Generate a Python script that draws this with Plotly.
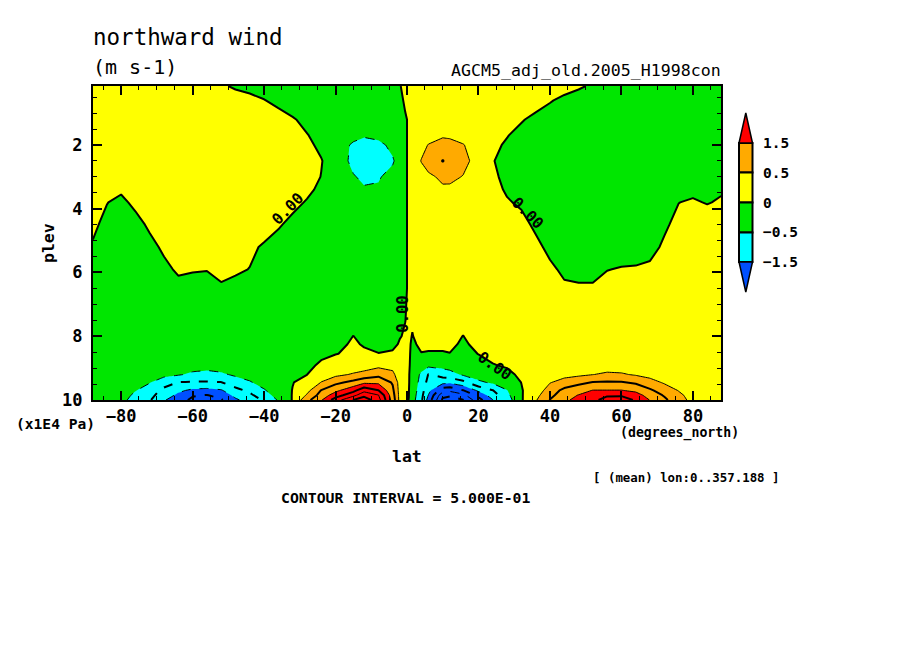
import plotly.graph_objects as go

lat_south = [-87.9,-86,-84,-80,-76,-72,-68,-64,-60,-56,-52,-48,-44,-40,-36,-32,-28,-24,-20,-15,-12,-8,-4,-2,-0.5]
lat_north = [0.5,1.5,4,6,10,12,15.7,20,24,28,32,36,40,44,48,52,56,60,64,68,72,76,80,84,87.9]
plev = [0.15,0.6,1.2,1.7,2.0,2.5,3.0,3.4,3.8,4.5,5.2,5.9,6.5,7.5,8.0,8.25,8.55,8.9,9.2,9.45,9.7,9.85,10]

wind_south = [
[.3,.3,.3,.3,.3,.3,.3,.3,.25,.2,.08,-.08,-.2,-.25,-.3,-.3,-.3,-.3,-.3,-.3,-.3,-.2,-.1,-.01,.05],
[.3,.3,.3,.3,.3,.3,.3,.3,.3,.3,.3,.25,.18,.02,-.14,-.25,-.3,-.3,-.3,-.3,-.3,-.25,-.15,-.05,.03],
[.3,.3,.3,.3,.3,.3,.3,.3,.3,.3,.3,.3,.3,.28,.2,.04,-.12,-.2,-.25,-.3,-.3,-.25,-.15,-.08,-.02],
[.3,.3,.3,.3,.3,.3,.3,.3,.3,.3,.3,.3,.3,.3,.3,.18,.02,-.14,-.25,-.38,-.46,-.38,-.2,-.1,-.02],
[.3,.3,.3,.3,.3,.3,.3,.3,.3,.3,.3,.3,.3,.3,.3,.24,.08,-.08,-.28,-.56,-.65,-.62,-.38,-.15,-.03],
[.3,.3,.3,.3,.3,.3,.3,.3,.4,.4,.4,.4,.4,.4,.4,.34,.18,.02,-.22,-.62,-.8,-.88,-.55,-.3,-.04],
[.3,.3,.25,.2,.25,.3,.3,.3,.35,.35,.35,.35,.35,.35,.35,.3,.16,-.01,-.2,-.47,-.58,-.54,-.35,-.18,-.03],
[.2,.15,.1,.05,.1,.2,.3,.3,.3,.3,.3,.3,.3,.3,.3,.24,.08,-.08,-.22,-.38,-.46,-.45,-.28,-.14,-.03],
[.14,.08,.01,-.08,.08,.2,.3,.3,.3,.3,.3,.3,.3,.3,.2,.1,-.03,-.15,-.2,-.3,-.35,-.35,-.2,-.1,-.02],
[.06,-.01,-.08,-.2,-.12,.06,.18,.28,.3,.3,.3,.3,.28,.18,.04,-.1,-.2,-.2,-.2,-.2,-.2,-.2,-.15,-.1,-.02],
[-.03,-.1,-.15,-.25,-.25,-.1,.06,.18,.22,.25,.25,.18,.08,-.05,-.15,-.2,-.2,-.2,-.2,-.2,-.2,-.2,-.15,-.1,-.02],
[-.25,-.25,-.25,-.25,-.25,-.2,-.08,.05,.03,.015,.08,.06,-.01,-.1,-.15,-.2,-.2,-.2,-.2,-.2,-.2,-.2,-.15,-.1,-.02],
[-.3,-.3,-.3,-.3,-.3,-.25,-.2,-.1,-.15,-.15,-.04,-.12,-.15,-.2,-.2,-.2,-.2,-.2,-.2,-.2,-.2,-.2,-.15,-.1,-.02],
[-.2,-.2,-.2,-.2,-.2,-.2,-.2,-.2,-.2,-.2,-.2,-.2,-.2,-.2,-.2,-.2,-.2,-.2,-.15,-.1,-.2,-.2,-.15,-.1,-.003],
[-.15,-.15,-.15,-.15,-.15,-.15,-.15,-.15,-.15,-.15,-.15,-.15,-.15,-.15,-.15,-.15,-.15,-.1,-.1,.003,-.08,-.1,-.1,-.01,.02],
[-.12,-.12,-.12,-.12,-.12,-.12,-.12,-.12,-.12,-.12,-.12,-.12,-.1,-.1,-.1,-.08,-.08,-.08,-.06,.03,-.02,-.05,-.05,.02,.05],
[-.1,-.1,-.1,-.1,-.1,-.12,-.15,-.18,-.2,-.2,-.15,-.12,-.1,-.08,-.06,-.06,-.06,-.04,-.01,.05,.04,.005,.03,.1,.08],
[-.1,-.1,-.1,-.1,-.12,-.15,-.2,-.25,-.3,-.3,-.25,-.2,-.15,-.1,-.06,-.06,-.05,.03,.15,.2,.25,.35,.35,.2,.1],
[-.1,-.1,-.1,-.12,-.2,-.28,-.38,-.45,-.58,-.65,-.58,-.42,-.3,-.15,-.08,-.04,-.005,.25,.38,.55,.65,.85,.6,.25,.1],
[-.1,-.1,-.1,-.15,-.3,-.48,-.75,-1.02,-1.05,-1.05,-1.02,-.75,-.55,-.3,-.12,-.01,.1,.52,.88,1.15,1.4,1.4,.95,.3,.1],
[-.1,-.1,-.12,-.22,-.48,-.7,-1.15,-1.4,-1.6,-1.65,-1.55,-1.15,-.9,-.55,-.2,.01,.35,1.02,1.38,1.85,2.35,2.02,1.1,.32,.08],
[-.1,-.1,-.14,-.28,-.6,-.85,-1.25,-1.6,-1.95,-2.02,-1.85,-1.35,-1.1,-.72,-.3,.02,.55,1.2,1.75,2.35,2.85,2.52,1.2,.34,.06],
[-.1,-.1,-.15,-.35,-.7,-.95,-1.45,-1.8,-2.1,-2.2,-2.05,-1.6,-1.25,-.95,-.45,.03,.85,1.45,2.25,3.02,3.3,2.7,1.3,.35,.05],
]

wind_north = [
[.1,.15,.2,.25,.3,.3,.3,.3,.3,.3,.3,.3,.3,.2,.08,-.08,-.2,-.25,-.3,-.3,-.3,-.3,-.3,-.3,-.3],
[.08,.12,.2,.25,.3,.3,.3,.3,.3,.3,.3,.2,.04,-.12,-.25,-.3,-.3,-.3,-.3,-.3,-.3,-.3,-.3,-.3,-.3],
[.02,.08,.2,.25,.3,.3,.3,.3,.25,.2,.04,-.12,-.25,-.3,-.3,-.3,-.3,-.3,-.3,-.3,-.3,-.3,-.3,-.3,-.3],
[.02,.08,.2,.3,.46,.42,.35,.25,.18,.02,-.14,-.25,-.3,-.3,-.3,-.3,-.3,-.3,-.3,-.3,-.3,-.3,-.3,-.3,-.3],
[.03,.1,.35,.52,.62,.65,.52,.3,.1,-.06,-.2,-.3,-.35,-.35,-.35,-.35,-.35,-.35,-.35,-.35,-.3,-.3,-.3,-.3,-.3],
[.04,.2,.52,.7,1.02,.88,.65,.3,.02,-.14,-.3,-.35,-.35,-.35,-.35,-.35,-.35,-.35,-.35,-.35,-.3,-.3,-.3,-.3,-.3],
[.03,.1,.3,.42,.58,.6,.48,.3,.07,-.1,-.25,-.3,-.35,-.35,-.35,-.35,-.35,-.35,-.35,-.35,-.3,-.25,-.25,-.25,-.25],
[.03,.08,.22,.32,.44,.42,.35,.25,.1,-.04,-.2,-.3,-.3,-.3,-.3,-.3,-.3,-.3,-.3,-.3,-.2,-.08,-.08,-.08,-.04],
[.02,.06,.18,.25,.35,.33,.3,.2,.12,.03,-.05,-.15,-.25,-.3,-.3,-.3,-.3,-.3,-.3,-.2,-.1,-.005,.04,-.02,.04],
[.02,.06,.15,.2,.3,.3,.3,.3,.25,.2,.1,-.06,-.15,-.2,-.25,-.25,-.25,-.25,-.2,-.12,-.05,.09,.2,.2,.2],
[.02,.06,.15,.2,.3,.3,.3,.3,.3,.25,.2,.08,-.08,-.15,-.2,-.2,-.2,-.15,-.15,-.1,.05,.15,.25,.25,.25],
[.02,.06,.15,.2,.3,.3,.3,.3,.3,.3,.25,.2,.06,-.06,-.07,-.07,-.01,.02,.03,.06,.15,.25,.3,.3,.3],
[.02,.06,.15,.2,.3,.3,.3,.3,.3,.3,.3,.25,.15,.05,.03,.03,.12,.2,.25,.25,.3,.3,.3,.3,.3],
[.03,.03,.15,.25,.25,.25,.1,.25,.3,.3,.3,.3,.3,.3,.3,.3,.3,.3,.3,.3,.3,.3,.3,.3,.3],
[.04,-.01,.1,.1,.1,.08,-.005,.12,.15,.2,.25,.25,.25,.25,.25,.25,.25,.25,.25,.25,.25,.25,.25,.25,.25],
[.04,-.04,.05,.05,.05,.04,-.03,.05,.1,.15,.2,.25,.25,.25,.25,.25,.25,.25,.25,.25,.25,.25,.25,.25,.25],
[.03,-.05,-.01,-.02,-.02,-.005,-.07,.005,.06,.1,.15,.2,.22,.25,.25,.25,.25,.25,.25,.25,.25,.25,.25,.25,.25],
[.03,-.08,-.2,-.35,-.3,-.25,-.2,-.08,-.01,.03,.1,.15,.2,.22,.25,.25,.25,.25,.25,.2,.22,.22,.22,.22,.2],
[.02,-.12,-.6,-1.02,-.8,-.7,-.42,-.25,-.15,-.06,.05,.12,.3,.38,.4,.49,.58,.55,.45,.35,.3,.25,.25,.22,.2],
[.02,-.15,-.7,-1.15,-1.35,-1.4,-1.15,-.6,-.42,-.2,.005,.15,.48,.65,.88,1.03,1.05,1.05,.92,.67,.45,.32,.28,.25,.2],
[.01,-.2,-.8,-1.35,-2.3,-2.4,-2.02,-1.4,-1.02,-.52,-.03,.25,.7,1.15,1.3,1.52,1.52,1.52,1.4,1.08,.75,.48,.3,.25,.2],
[.005,-.25,-.85,-1.52,-2.85,-2.9,-2.65,-1.85,-1.25,-.62,-.04,.35,.85,1.3,1.52,1.75,1.95,1.95,1.7,1.3,.95,.6,.32,.25,.2],
[-.005,-.3,-.9,-1.7,-3.1,-3.3,-3.02,-2.2,-1.52,-.75,-.05,.45,1.02,1.4,1.65,1.9,2.15,2.2,1.95,1.48,1.1,.7,.35,.25,.2],
]

colorbar_labels = ["1.5", "0.5", "0", "\u22120.5", "\u22121.5"]
band_colors = ["#ff0000", "#ffaa00", "#ffff00", "#00e600", "#00ffff", "#0050ff"]

lat = lat_south + lat_north
wind = [s + n for s, n in zip(wind_south, wind_north)]

FONT = "DejaVu Sans Mono"
OFF = 8  # the page's own body margin
PL, PR, PT, PB = 93, 721, 86, 400


def px(x):
    return (x - PL) / (PR - PL)


def py(y):
    return (PB - y) / (PB - PT)


zmin, zmax = -4.0, 4.0


def frac(v):
    return (v - zmin) / (zmax - zmin)


steps = [(-4.0, -1.5, band_colors[5]), (-1.5, -0.5, band_colors[4]), (-0.5, 0.0, band_colors[3]),
         (0.0, 0.5, band_colors[2]), (0.5, 1.5, band_colors[1]), (1.5, 4.0, band_colors[0])]
colorscale = []
for lo, hi, c in steps:
    colorscale += [[frac(lo), c], [frac(hi), c]]

fig = go.Figure()
fig.add_trace(go.Contour(
    x=lat, y=plev, z=wind, zmin=zmin, zmax=zmax, zauto=False, colorscale=colorscale, showscale=False,
    autocontour=False, contours=dict(start=-4, end=4, size=0.5, coloring="fill", showlines=False),
    line=dict(width=0, smoothing=0), hoverinfo="skip"))


def lines(start, end, size, width, dash):
    fig.add_trace(go.Contour(
        x=lat, y=plev, z=wind, showscale=False, autocontour=False,
        contours=dict(start=start, end=end, size=size, coloring="none"),
        line=dict(color="black", width=width, dash=dash, smoothing=0), hoverinfo="skip"))


lines(0, 3, 1, 2, "solid")
lines(0.5, 2.5, 1, 1, "solid")
lines(-3, -1, 1, 2, "dash")
lines(-2.5, -0.5, 1, 1, "dash")

tf = dict(family=FONT, size=17, color="black", weight="bold")
fig.update_layout(
    width=904 - 2 * OFF, height=654 - 2 * OFF, autosize=False,
    margin=dict(l=PL - OFF, r=904 - OFF - PR, t=PT - OFF, b=654 - OFF - PB, pad=0),
    paper_bgcolor="white", plot_bgcolor="white", showlegend=False,
    xaxis=dict(range=[-87.86, 87.86], tick0=0, dtick=20, ticks="inside", ticklen=9, tickwidth=1.5, tickcolor="black",
               showline=True, linecolor="black", linewidth=2, mirror="ticks", showgrid=False, zeroline=False,
               tickfont=tf, minor=dict(tick0=0, dtick=5, ticks="inside", ticklen=4, tickwidth=1, tickcolor="black", showgrid=False)),
    yaxis=dict(range=[10, 0.15], tick0=0, dtick=2, ticks="inside", ticklen=9, tickwidth=1.5, tickcolor="black",
               showline=True, linecolor="black", linewidth=2, mirror="ticks", showgrid=False, zeroline=False,
               ticklabelstandoff=5,
               tickfont=tf, minor=dict(tick0=0, dtick=0.5, ticks="inside", ticklen=4, tickwidth=1, tickcolor="black", showgrid=False)),
)

texts = [
    ("northward wind", 91, 37, 22.5, "left", 0, "normal"),
    ("(m s-1)", 91, 67, 20, "left", 0, "normal"),
    ("AGCM5_adj_old.2005_H1998con", 723, 71, 16.6, "right", 0, "normal"),
    ("plev", 48, 243, 16.5, "center", -90, "bold"),
    ("(x1E4 Pa)", 14, 423, 14.6, "left", 0, "bold"),
    ("(degrees_north)", 741, 433, 13.2, "right", 0, "bold"),
    ("lat", 407, 456, 16.5, "center", 0, "bold"),
    ("[ (mean) lon:0..357.188 ]", 782, 477, 12.4, "right", 0, "bold"),
    ("CONTOUR INTERVAL = 5.000E-01", 533, 497, 14.8, "right", 0, "bold"),
]
ann = []
for t, x, y, s, al, rot, w in texts:
    ann.append(dict(text=t, xref="paper", yref="paper", x=px(x), y=py(y), xanchor=al, yanchor="middle", showarrow=False,
                    textangle=rot, font=dict(family=FONT, size=s, color="black", weight=w)))

label_spots = [(-33.4, 4.0, -45), (33.7, 4.13, 45), (-1.2, 7.3, -90), (24.5, 8.93, 35)]
for la, p, rot in label_spots:
    ann.append(dict(text="0.00", x=la, y=p, xref="x", yref="y", showarrow=False, textangle=rot,
                    font=dict(family=FONT, size=15.5, color="black", weight="bold")))

bar_l, bar_r, bar_m = 739, 752.5, 745.8
edges = [143, 172.5, 202.5, 232.5, 262]
shapes = []
for i, c in enumerate(band_colors[1:5]):
    shapes.append(dict(type="rect", xref="paper", yref="paper", x0=px(bar_l), x1=px(bar_r), y0=py(edges[i]), y1=py(edges[i + 1]),
                       fillcolor=c, line=dict(color="black", width=2)))
for tip, base, c in [(113, 143, band_colors[0]), (292, 262, band_colors[5])]:
    path = f"M {px(bar_l)} {py(base)} L {px(bar_r)} {py(base)} L {px(bar_m)} {py(tip)} Z"
    shapes.append(dict(type="path", xref="paper", yref="paper", path=path, fillcolor=c, line=dict(color="black", width=1.5)))
for lab, e in zip(colorbar_labels, edges):
    ann.append(dict(text=lab, xref="paper", yref="paper", x=px(761), y=py(e), xanchor="left", yanchor="middle", showarrow=False,
                    font=dict(family=FONT, size=14.5, color="black", weight="bold")))

fig.update_layout(annotations=ann, shapes=shapes)
fig.write_html("out.html")
